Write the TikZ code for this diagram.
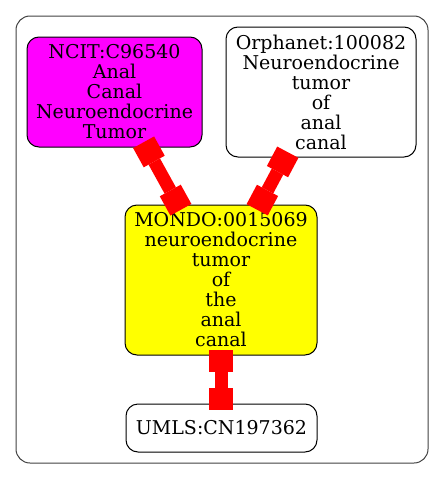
\documentclass[tikz,border=0pt]{standalone}
\usepackage{fontspec}
\setmainfont{DejaVu Serif}
\usetikzlibrary{arrows.meta}
\definecolor{ncitfill}{RGB}{255,0,255}
\definecolor{mondofill}{RGB}{255,255,0}
\definecolor{xrefred}{RGB}{255,0,0}
\tikzset{
  term/.style={draw, line width=1pt, rounded corners=12pt, align=center, inner sep=0pt, font=\fontsize{19}{20}\selectfont},
  xref/.style={draw=xrefred, line width=13pt, shorten <=-6pt, shorten >=-6pt,
    {Square[length=22pt,width=24pt,line width=0pt]}-{Square[length=22pt,width=24pt,line width=0pt]}}
}
\begin{document}
\begin{tikzpicture}[x=1pt,y=-1pt]
    \useasboundingbox (0,0) rectangle (444,479);
    \node[draw=black!75, line width=1pt, rounded corners=14pt, minimum width=412pt, minimum height=447pt] (cluster) at (222,239.5) {};
    \node[term, fill=ncitfill, minimum width=175pt, minimum height=110pt] (ncit) at (114.5,92) {NCIT:C96540\\Anal\\Canal\\Neuroendocrine\\Tumor};
    \node[term, fill=white, minimum width=190pt, minimum height=130pt] (orpha) at (321,92) {Orphanet:100082\\Neuroendocrine\\tumor\\of\\anal\\canal};
    \node[term, fill=mondofill, minimum width=192pt, minimum height=150pt] (mondo) at (221,280) {MONDO:0015069\\neuroendocrine\\tumor\\of\\the\\anal\\canal};
    \node[term, fill=white, minimum width=191pt, minimum height=48pt] (umls) at (221.5,428) {UMLS:CN197362};
    \draw[xref] ([xshift=32pt]ncit.south) -- ([xshift=-43pt]mondo.north);
    \draw[xref] ([xshift=-36pt]orpha.south) -- ([xshift=39pt]mondo.north);
    \draw[xref] (mondo.south) -- (mondo.south |- umls.north);
\end{tikzpicture}
\end{document}
